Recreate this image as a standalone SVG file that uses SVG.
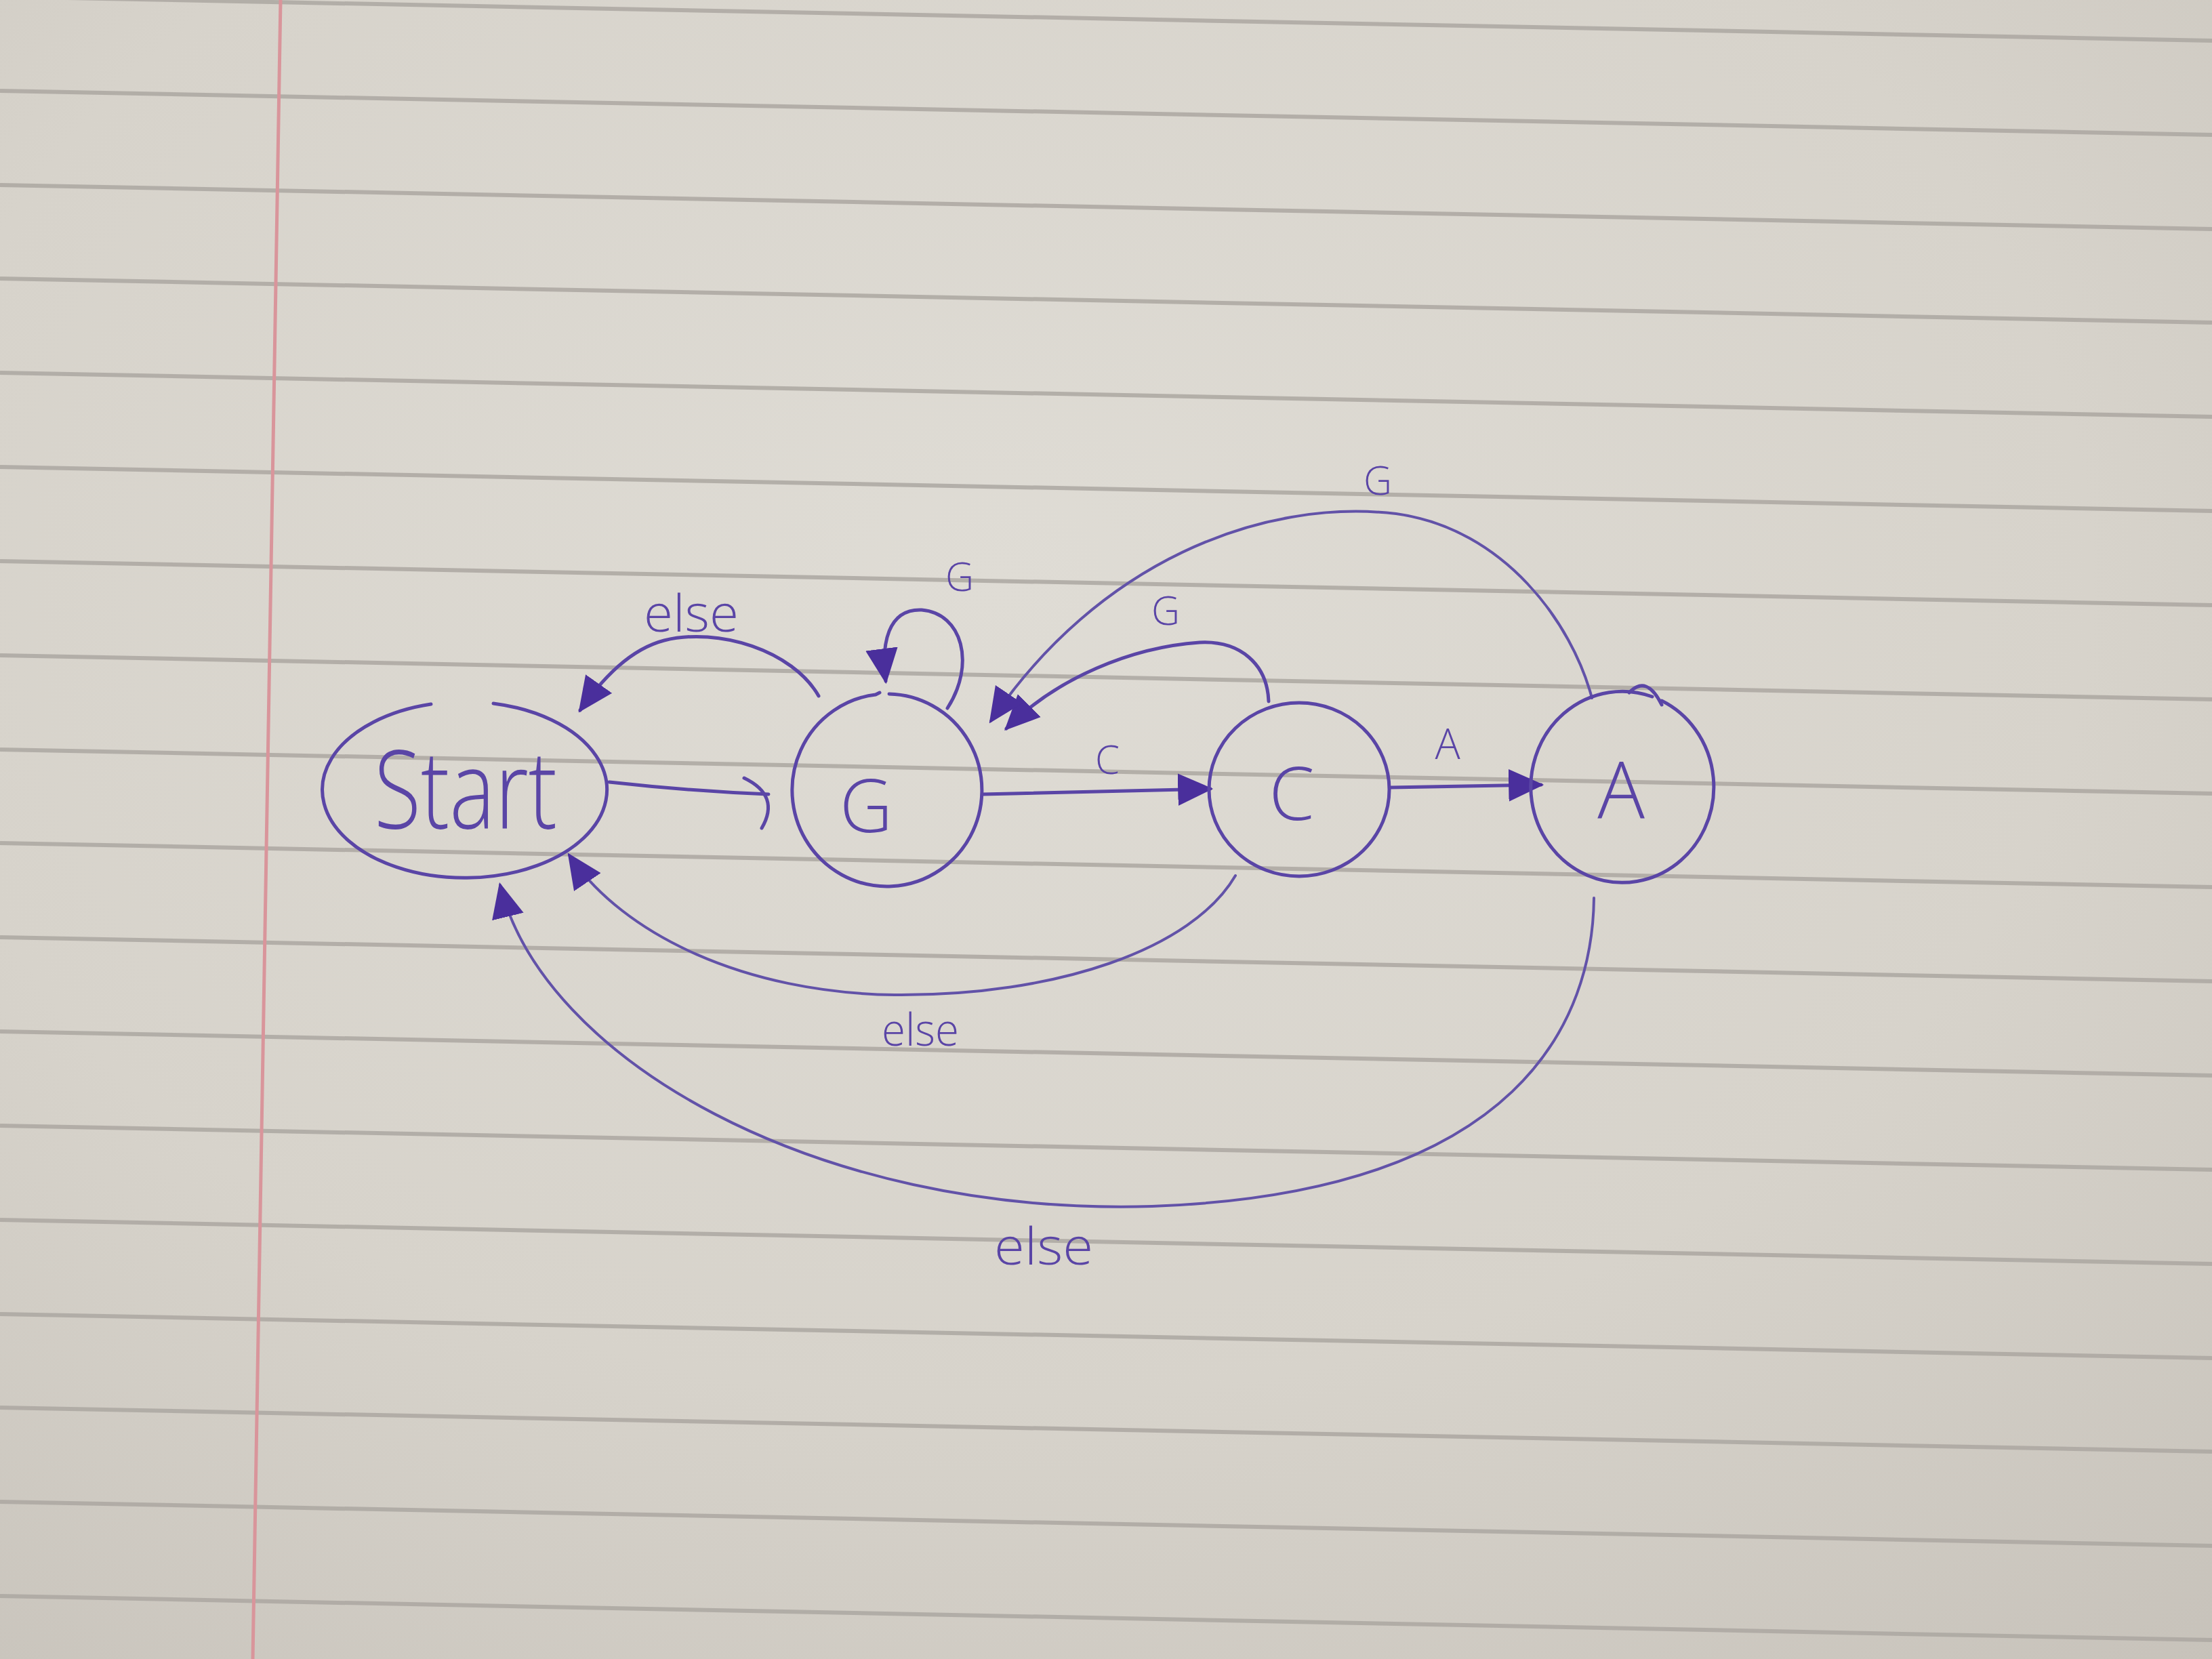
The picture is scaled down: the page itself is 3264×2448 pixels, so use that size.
<svg xmlns="http://www.w3.org/2000/svg" width="3264" height="2448" viewBox="0 0 3264 2448">
  <defs>
    <radialGradient id="paper" cx="0.45" cy="0.35" r="0.9">
      <stop offset="0" stop-color="#dfdcd5"/>
      <stop offset="0.55" stop-color="#d7d3cb"/>
      <stop offset="1" stop-color="#c5c0b8"/>
    </radialGradient>
    <marker id="tri" viewBox="0 0 50 50" refX="46" refY="25" markerWidth="52" markerHeight="52" markerUnits="userSpaceOnUse" orient="auto">
      <path d="M0,2 L50,25 L0,48 Z" fill="#4a2f9c"/>
    </marker>
    <style>
      .rule { stroke: #aca7a1; stroke-width: 6; fill: none; opacity: 0.85; }
      .node { fill: none; stroke: #5a45a6; stroke-width: 5; stroke-linecap: round; }
      .edge { fill: none; stroke: #5a45a6; stroke-width: 5; stroke-linecap: round; }
      .thin { stroke-width: 4; stroke: #6252a8; }
      .lbl { fill: #5a45a6; font-family: "Open Sans", "Liberation Sans", sans-serif; font-weight: 300; text-anchor: middle; }
    </style>
  </defs>

  <!-- paper -->
  <rect x="0" y="0" width="3264" height="2448" fill="url(#paper)"/>
  <g id="rules">
    <line class="rule" x1="0" y1="-5" x2="3264" y2="60"/>
    <line class="rule" x1="0" y1="134" x2="3264" y2="199"/>
    <line class="rule" x1="0" y1="273" x2="3264" y2="338"/>
    <line class="rule" x1="0" y1="411" x2="3264" y2="476"/>
    <line class="rule" x1="0" y1="550" x2="3264" y2="615"/>
    <line class="rule" x1="0" y1="689" x2="3264" y2="754"/>
    <line class="rule" x1="0" y1="828" x2="3264" y2="893"/>
    <line class="rule" x1="0" y1="967" x2="3264" y2="1032"/>
    <line class="rule" x1="0" y1="1106" x2="3264" y2="1171"/>
    <line class="rule" x1="0" y1="1244" x2="3264" y2="1309"/>
    <line class="rule" x1="0" y1="1383" x2="3264" y2="1448"/>
    <line class="rule" x1="0" y1="1522" x2="3264" y2="1587"/>
    <line class="rule" x1="0" y1="1661" x2="3264" y2="1726"/>
    <line class="rule" x1="0" y1="1800" x2="3264" y2="1865"/>
    <line class="rule" x1="0" y1="1939" x2="3264" y2="2004"/>
    <line class="rule" x1="0" y1="2077" x2="3264" y2="2142"/>
    <line class="rule" x1="0" y1="2216" x2="3264" y2="2281"/>
    <line class="rule" x1="0" y1="2355" x2="3264" y2="2420"/>
    <line x1="414" y1="0" x2="373" y2="2448" stroke="#d9959b" stroke-width="5"/>
  </g>

  <!-- connectors -->
  <g id="connectors">
    <!-- Start -> G -->
    <path class="edge" d="M 899 1154 C 980 1163, 1060 1169, 1134 1172"/>
    <path class="edge" d="M 1098 1148 Q 1152 1174 1124 1222"/>
    <!-- G -> C -->
    <path class="edge" d="M 1450 1172 L 1786 1164" marker-end="url(#tri)"/>
    <!-- C -> A -->
    <path class="edge" d="M 2052 1162 L 2274 1158" marker-end="url(#tri)"/>
    <!-- G -> Start (else) -->
    <path class="edge" d="M 1208 1027 C 1170 960, 1060 925, 980 945 C 930 958, 890 1000, 856 1048" marker-end="url(#tri)"/>
    <!-- G -> G (G) -->
    <path class="edge" d="M 1398 1045 C 1440 980, 1420 905, 1360 900 C 1310 898, 1300 950, 1307 1005" marker-end="url(#tri)"/>
    <!-- C -> G (G) -->
    <path class="edge" d="M 1872 1035 C 1870 980, 1830 945, 1770 948 C 1670 955, 1560 1000, 1485 1075" marker-end="url(#tri)"/>
    <!-- A -> G (G) -->
    <path class="edge thin" d="M 2349 1030 C 2320 920, 2220 780, 2060 758 C 1860 735, 1620 830, 1462 1064" marker-end="url(#tri)"/>
    <!-- C -> Start (else) -->
    <path class="edge thin" d="M 1823 1292 C 1760 1400, 1560 1470, 1320 1468 C 1100 1465, 920 1380, 840 1262" marker-end="url(#tri)"/>
    <!-- A -> Start (else) -->
    <path class="edge thin" d="M 2352 1325 C 2350 1500, 2250 1760, 1700 1780 C 1200 1795, 800 1560, 738 1306" marker-end="url(#tri)"/>
    <text class="lbl" x="1020" y="932" font-size="76" textLength="140" lengthAdjust="spacingAndGlyphs">else</text>
    <text class="lbl" x="1416" y="872" font-size="58">G</text>
    <text class="lbl" x="1720" y="922" font-size="58">G</text>
    <text class="lbl" x="2033" y="730" font-size="58">G</text>
    <text class="lbl" x="1634" y="1142" font-size="58">C</text>
    <text class="lbl" x="2136" y="1120" font-size="62">A</text>
    <text class="lbl" x="1358" y="1543" font-size="66" textLength="114" lengthAdjust="spacingAndGlyphs">else</text>
    <text class="lbl" x="1540" y="1866" font-size="76" textLength="146" lengthAdjust="spacingAndGlyphs">else</text>
  </g>

  <!-- nodes -->
  <g id="node-start">
    <path class="node" d="M 728 1038 A 210 130 0 1 1 636 1039"/>
    <text class="lbl" x="687" y="1222" font-size="160" textLength="270" lengthAdjust="spacingAndGlyphs">Start</text>
  </g>
  <g id="node-g">
    <path class="node" d="M 1312 1024 A 140 142 0 1 1 1292 1025 l 6 -3"/>
    <text class="lbl" x="1278" y="1228" font-size="108">G</text>
  </g>
  <g id="node-c">
    <ellipse class="node" cx="1917" cy="1165" rx="133" ry="128"/>
    <text class="lbl" x="1906" y="1210" font-size="108">C</text>
  </g>
  <g id="node-a">
    <path class="node" d="M 2438 1028 A 135 141 0 1 0 2452 1034"/>
    <path class="node" d="M 2404 1022 Q 2430 995 2452 1040"/>
    <text class="lbl" x="2392" y="1207" font-size="116">A</text>
  </g>
</svg>
